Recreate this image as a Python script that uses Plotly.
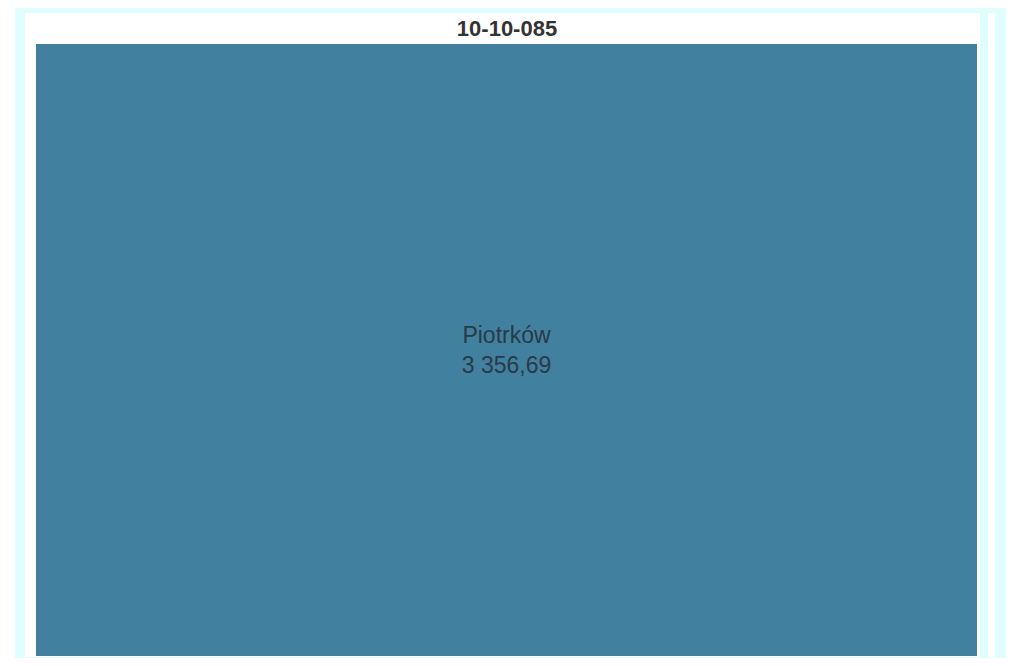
import plotly.graph_objects as go

# Daten
title = "10-10-085"
labels = ["Piotrków"]
parents = [""]
values = [3356.69]

W, H = 998, 650
OX, OY = 8, 8  # body margin of the page

L, R, T, B = 36, 977, 44, 656  # treemap box in window pixels


def px_x(x):
    return (x - L) / (R - L)


def px_y(y):
    return 1 - (y - T) / (B - T)


def white_box(x0, x1, y0, y1):
    return dict(type="rect", xref="paper", yref="paper", layer="below",
                x0=px_x(x0), x1=px_x(x1), y0=px_y(y1), y1=px_y(y0),
                fillcolor="white", line=dict(width=0))


fig = go.Figure(go.Treemap(
    labels=labels,
    parents=parents,
    values=values,
    texttemplate="%{label}<br>%{value:,.2f}",
    textposition="middle center",
    textfont=dict(family="Arial, Liberation Sans", size=23, color="#2a3a48"),
    marker=dict(colors=["#41809e"], line=dict(width=0)),
    hoverinfo="label+value",
    tiling=dict(pad=0),
))

fig.update_layout(
    width=W, height=H,
    separators=", ",
    paper_bgcolor="#e0fdff",
    margin=dict(l=L - OX, r=W - (R - OX), t=T - OY, b=H - (B - OY), pad=0),
    title=dict(text="<b>" + title + "</b>", x=0.5, xanchor="center", y=1 - (28 - OY) / H,
               yanchor="middle", font=dict(family="Arial, Liberation Sans", size=22, color="#333333")),
    shapes=[
        white_box(8, 15, 8, 658),
        white_box(25, 980, 13, 657),
        white_box(988, 995, 13, 657),
    ],
)

fig.write_html("out.html")
